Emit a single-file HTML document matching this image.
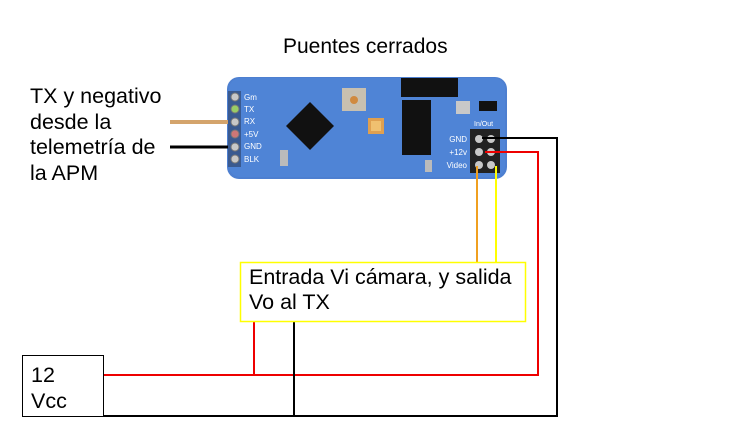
<!DOCTYPE html>
<html><head><style>
body{margin:0;width:735px;height:447px;background:#fff;position:relative;overflow:hidden;font-family:"Liberation Sans",sans-serif}
.t{position:absolute;color:#000;white-space:nowrap}
</style></head><body>
<svg width="735" height="447" style="position:absolute;left:0;top:0">
<rect x="227" y="77" width="280" height="102" rx="12" fill="#4d7fd0"/>
<rect x="229" y="78" width="276" height="99" rx="11" fill="#4f84d6"/>
<line x1="170" y1="122" x2="234" y2="122" stroke="#d4a46c" stroke-width="4"/>
<line x1="170" y1="147" x2="234" y2="147" stroke="#000" stroke-width="3"/>
<rect x="228" y="91" width="13" height="76" fill="#3a5a90"/>
<g fill="#c8c8c8" stroke="#777">
<circle cx="235" cy="97" r="4"/><circle cx="235" cy="109" r="4" fill="#9c6"/><circle cx="235" cy="122" r="4"/><circle cx="235" cy="134" r="4" fill="#c77"/><circle cx="235" cy="147" r="4"/><circle cx="235" cy="159" r="4"/>
</g>
<g fill="#fff" font-size="8" font-family="Liberation Sans">
<text x="244" y="100">Gm</text><text x="244" y="112">TX</text><text x="244" y="124">RX</text><text x="244" y="137">+5V</text><text x="244" y="149">GND</text><text x="244" y="162">BLK</text>
</g>
<polygon points="310,102 334,126 310,150 286,126" fill="#111"/>
<rect x="342" y="88" width="24" height="23" fill="#c8c0b0"/><circle cx="354" cy="100" r="4" fill="#d08a40"/>
<rect x="368" y="118" width="16" height="16" fill="#e0a050"/><rect x="371" y="121" width="10" height="10" fill="#f0c070"/>
<rect x="401" y="78" width="57" height="19" fill="#111"/>
<rect x="402" y="100" width="29" height="55" fill="#111"/>
<rect x="456" y="101" width="14" height="13" fill="#c8c8c8"/>
<rect x="479" y="101" width="18" height="10" fill="#111"/>
<rect x="280" y="150" width="8" height="16" fill="#bbb"/>
<rect x="425" y="160" width="7" height="12" fill="#bbb"/>
<text x="474" y="126" fill="#fff" font-size="7">In/Out</text>
<g fill="#fff" font-size="8" text-anchor="end"><text x="467" y="142">GND</text><text x="467" y="155">+12v</text><text x="467" y="168">Video</text></g>
<rect x="470" y="129" width="30" height="44" fill="#222"/>
<g fill="#c8c8c8"><circle cx="479" cy="139" r="4"/><circle cx="491" cy="139" r="4"/><circle cx="479" cy="152" r="4"/><circle cx="491" cy="152" r="4"/><circle cx="479" cy="165" r="4"/><circle cx="491" cy="165" r="4"/></g>
<polyline points="482,138 557,138 557,416 100,416" fill="none" stroke="#000" stroke-width="2"/>
<polyline points="485,152 538,152 538,375 104,375" fill="none" stroke="#e00" stroke-width="2"/>
<line x1="477" y1="166" x2="477" y2="262" stroke="#f0a020" stroke-width="2"/>
<line x1="496" y1="166" x2="496" y2="262" stroke="#ff0" stroke-width="2"/>
<line x1="254" y1="321" x2="254" y2="375" stroke="#e00" stroke-width="2"/>
<line x1="294" y1="321" x2="294" y2="416" stroke="#000" stroke-width="2"/>
<rect x="240.5" y="262.5" width="285" height="59" fill="#fff" stroke="#ff0" stroke-width="1.5"/>
<rect x="22.5" y="355.5" width="81" height="61" fill="#fff" stroke="#000" stroke-width="1"/>
</svg>
<div class="t" style="left:283px;top:35px;font-size:21px">Puentes cerrados</div>
<div class="t" style="left:30px;top:84px;font-size:21.5px;line-height:25.5px">TX y negativo<br>desde la<br>telemetría de<br>la APM</div>
<div class="t" style="left:249px;top:265px;font-size:21.5px;line-height:25px">Entrada Vi cámara, y salida<br>Vo al TX</div>
<div class="t" style="left:31px;top:362px;font-size:21.5px;line-height:26px">12<br>Vcc</div>
</body></html>
